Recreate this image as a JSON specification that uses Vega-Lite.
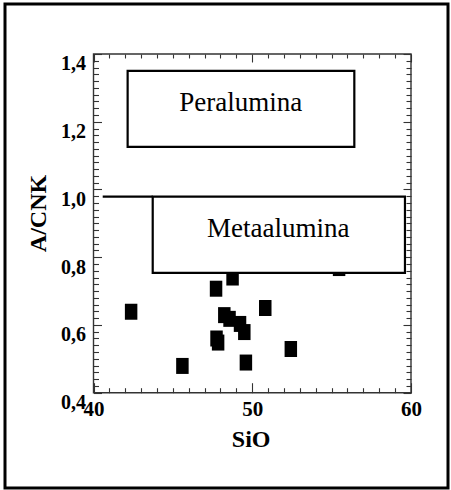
{
  "$schema": "https://vega.github.io/schema/vega-lite/v6.json",
  "width": 443,
  "height": 484,
  "autosize": {"type": "none"},
  "padding": {"left": 5, "top": 4, "right": 3, "bottom": 2},
  "background": "white",
  "config": {
    "view": {"stroke": "black", "strokeWidth": 3},
    "axis": {
      "domain": false,
      "grid": false,
      "labelFont": "Liberation Serif",
      "titleFont": "Liberation Serif",
      "labelFontWeight": "bold",
      "titleFontWeight": "bold",
      "labelColor": "black",
      "titleColor": "black",
      "tickColor": "#333",
      "tickWidth": 1.1,
      "labelFlush": false,
      "labelOverlap": false
    }
  },
  "datasets": {
    "points": [
      {"SiO2": 42.37, "ACNK": 0.639},
      {"SiO2": 45.6, "ACNK": 0.479},
      {"SiO2": 47.72, "ACNK": 0.707},
      {"SiO2": 48.76, "ACNK": 0.740},
      {"SiO2": 55.47, "ACNK": 0.768},
      {"SiO2": 50.82, "ACNK": 0.650},
      {"SiO2": 48.24, "ACNK": 0.629},
      {"SiO2": 48.57, "ACNK": 0.618},
      {"SiO2": 49.23, "ACNK": 0.603},
      {"SiO2": 49.5, "ACNK": 0.579},
      {"SiO2": 47.75, "ACNK": 0.560},
      {"SiO2": 47.85, "ACNK": 0.548},
      {"SiO2": 52.43, "ACNK": 0.529},
      {"SiO2": 49.6, "ACNK": 0.489}
    ],
    "boxes": [
      {"name": "Peralumina", "x1": 42.15, "x2": 56.43, "y1": 1.126, "y2": 1.35, "tx": 49.27, "ty": 1.254},
      {"name": "Metaalumina", "x1": 43.73, "x2": 59.62, "y1": 0.754, "y2": 0.979, "tx": 51.64, "ty": 0.883}
    ],
    "frame": [{"x1": 40, "x2": 60, "y1": 0.4, "y2": 1.4}],
    "line": [{"x1": 40.58, "x2": 43.73, "y": 0.979}]
  },
  "resolve": {"axis": {"x": "independent", "y": "independent"}},
  "layer": [
    {
      "data": {"name": "points"},
      "mark": {"type": "point", "shape": "M-0.78,-1H0.78V1H-0.78Z", "filled": true, "color": "black", "size": 256, "opacity": 1, "strokeWidth": 0},
      "encoding": {
        "x": {
          "field": "SiO2", "type": "quantitative",
          "scale": {"domain": [34.425, 62.331], "nice": false, "zero": false},
          "axis": {
            "orient": "bottom", "offset": -95.3, "values": [40, 50, 60], "ticks": false,
            "format": "d", "labelFontSize": 21, "labelPadding": 6,
            "title": "SiO", "titleFontSize": 24, "titleX": 245.7, "titleY": 53.3, "titleBaseline": "alphabetic"
          }
        },
        "y": {
          "field": "ACNK", "type": "quantitative",
          "scale": {"domain": [0.1186, 1.5476], "nice": false, "zero": false},
          "axis": {
            "orient": "left", "offset": -88.5, "values": [0.4, 0.6, 0.8, 1.0, 1.2, 1.4], "ticks": false,
            "labelExpr": "replace(format(datum.value, '.1f'), '.', ',')",
            "labelFontSize": 20, "labelPadding": 8, "labelBaseline": "top",
            "title": "A/CNK", "titleFontSize": 24, "titleX": -48.5, "titleY": 209, "titleBaseline": "alphabetic"
          }
        }
      }
    },
    {
      "data": {"name": "boxes"},
      "mark": {"type": "rect", "fill": "white", "stroke": "black", "strokeWidth": 2.2},
      "encoding": {
        "x": {
          "field": "x1", "type": "quantitative",
          "scale": {"domain": [34.425, 62.331], "nice": false, "zero": false},
          "axis": {
            "orient": "bottom", "offset": -95.3,
            "values": [40,41,42,43,44,45,46,47,48,49,50,51,52,53,54,55,56,57,58,59,60],
            "labels": false, "title": null,
            "tickSize": {"condition": {"test": "datum.value % 10 === 0", "value": -10}, "value": -5}
          }
        },
        "x2": {"field": "x2"},
        "y": {
          "field": "y1", "type": "quantitative",
          "scale": {"domain": [0.1186, 1.5476], "nice": false, "zero": false},
          "axis": {
            "orient": "left", "offset": -88.5,
            "values": [0.4,0.42,0.44,0.46,0.48,0.5,0.52,0.54,0.56,0.58,0.6,0.62,0.64,0.66,0.68,0.7,0.72,0.74,0.76,0.78,0.8,0.82,0.84,0.86,0.88,0.9,0.92,0.94,0.96,0.98,1.0,1.02,1.04,1.06,1.08,1.1,1.12,1.14,1.16,1.18,1.2,1.22,1.24,1.26,1.28,1.3,1.32,1.34,1.36,1.38,1.4],
            "labels": false, "title": null,
            "tickSize": {"condition": {"test": "round(datum.value * 50) % 10 === 0", "value": -8}, "value": -5}
          }
        },
        "y2": {"field": "y2"}
      }
    },
    {
      "data": {"name": "frame"},
      "mark": {"type": "rect", "fill": null, "stroke": "#333", "strokeWidth": 1.4},
      "encoding": {
        "x": {
          "field": "x1", "type": "quantitative",
          "scale": {"domain": [34.425, 62.331], "nice": false, "zero": false},
          "axis": {
            "orient": "top", "offset": -50,
            "values": [40,41,42,43,44,45,46,47,48,49,50,51,52,53,54,55,56,57,58,59,60],
            "labels": false, "title": null,
            "tickSize": {"condition": {"test": "datum.value % 10 === 0", "value": -8}, "value": -4}
          }
        },
        "x2": {"field": "x2"},
        "y": {
          "field": "y1", "type": "quantitative",
          "scale": {"domain": [0.1186, 1.5476], "nice": false, "zero": false},
          "axis": {
            "orient": "right", "offset": -37,
            "values": [0.4,0.42,0.44,0.46,0.48,0.5,0.52,0.54,0.56,0.58,0.6,0.62,0.64,0.66,0.68,0.7,0.72,0.74,0.76,0.78,0.8,0.82,0.84,0.86,0.88,0.9,0.92,0.94,0.96,0.98,1.0,1.02,1.04,1.06,1.08,1.1,1.12,1.14,1.16,1.18,1.2,1.22,1.24,1.26,1.28,1.3,1.32,1.34,1.36,1.38,1.4],
            "labels": false, "title": null,
            "tickSize": {"condition": {"test": "round(datum.value * 50) % 10 === 0", "value": -8}, "value": -5}
          }
        },
        "y2": {"field": "y2"}
      }
    },
    {
      "data": {"name": "line"},
      "mark": {"type": "rule", "color": "black", "strokeWidth": 2.2},
      "encoding": {
        "x": {"field": "x1", "type": "quantitative", "scale": {"domain": [34.425, 62.331], "nice": false, "zero": false}, "axis": null},
        "x2": {"field": "x2"},
        "y": {"field": "y", "type": "quantitative", "scale": {"domain": [0.1186, 1.5476], "nice": false, "zero": false}, "axis": null}
      }
    },
    {
      "data": {"name": "boxes"},
      "mark": {"type": "text", "font": "Liberation Serif", "fontSize": 27, "color": "black", "align": "center", "baseline": "middle"},
      "encoding": {
        "x": {"field": "tx", "type": "quantitative", "scale": {"domain": [34.425, 62.331], "nice": false, "zero": false}, "axis": null},
        "y": {"field": "ty", "type": "quantitative", "scale": {"domain": [0.1186, 1.5476], "nice": false, "zero": false}, "axis": null},
        "text": {"field": "name"}
      }
    }
  ]
}
